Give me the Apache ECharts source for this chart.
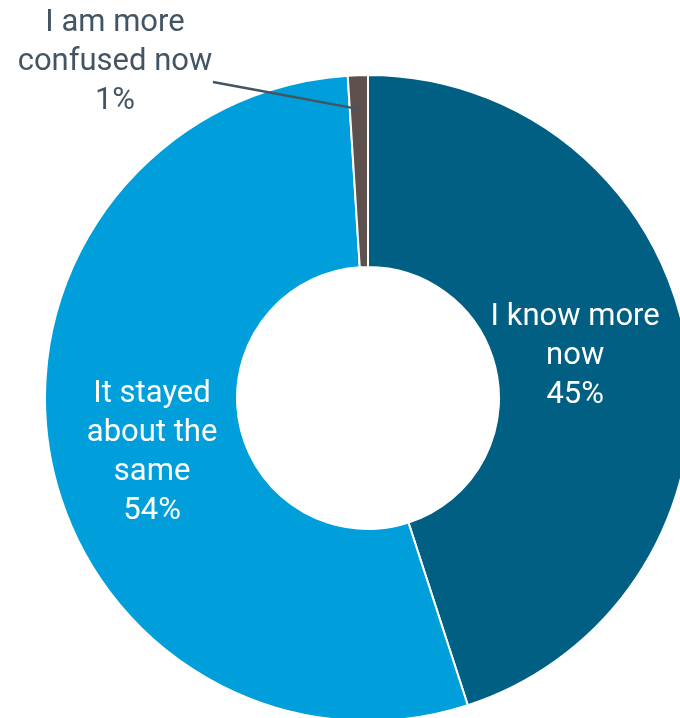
<!DOCTYPE html>
<html>
<head>
<meta charset="utf-8">
<script src="https://cdn.jsdelivr.net/npm/echarts@6/dist/echarts.min.js"></script>
<style>
  html, body { margin: 0; padding: 0; background: #fff; }
  #chart { width: 680px; height: 718px; }
</style>
</head>
<body>
<div id="chart"></div>
<script>
// Survey answers and their shares (%)
const categories = ['I know more\nnow', 'It stayed\nabout the\nsame', 'I am more\nconfused now'];
const shares = [45, 54, 1];
const colors = ['#005f83', '#009fdb', '#5e504d'];

const CENTER = [368, 398];
const RADIUS = [131, 323];
const FONT = 'Roboto';

const chart = echarts.init(document.getElementById('chart'));

// Slices with white inside labels (the tiny slice is labelled outside instead)
const ringData = categories.map((name, i) => ({
  name: name,
  value: shares[i],
  itemStyle: { color: colors[i] },
  label: { show: i !== 2 }
}));

// Same ring, invisible, drawn on top so the outside label and its leader
// line sit above the coloured slices
const calloutData = categories.map((name, i) => ({
  name: name,
  value: shares[i],
  label: { show: i === 2 },
  labelLine: { show: i === 2 }
}));

// Nudges for the inside labels
const insideShift = [[-20, -6], [10, 12]];

// Point inside a slice (mid angle, given radius), slices run clockwise from 12 o'clock
function slicePoint(index, r) {
  const total = shares.reduce((a, b) => a + b, 0);
  let before = 0;
  for (let i = 0; i < index; i++) before += shares[i];
  const frac = (before + shares[index] / 2) / total;
  const a = frac * Math.PI * 2;
  return [CENTER[0] + r * Math.sin(a), CENTER[1] - r * Math.cos(a)];
}

chart.setOption({
  animation: false,
  series: [{
    type: 'pie',
    z: 2,
    center: CENTER,
    radius: RADIUS,
    startAngle: 90,
    clockwise: true,
    avoidLabelOverlap: false,
    silent: true,
    itemStyle: { borderColor: '#ffffff', borderWidth: 2 },
    label: {
      position: 'inside',
      formatter: p => p.name + '\n' + p.value + '%',
      color: '#ffffff',
      fontFamily: FONT,
      fontSize: 31,
      lineHeight: 39,
      align: 'center'
    },
    labelLine: { show: false },
    labelLayout: function (params) {
      const s = insideShift[params.dataIndex];
      return s ? { dx: s[0], dy: s[1] } : {};
    },
    data: ringData
  }, {
    type: 'pie',
    z: 5,
    center: CENTER,
    radius: RADIUS,
    startAngle: 90,
    clockwise: true,
    avoidLabelOverlap: false,
    silent: true,
    itemStyle: { color: 'rgba(0,0,0,0)', borderWidth: 0 },
    label: {
      position: 'outside',
      formatter: p => p.name + '\n' + p.value + '%',
      color: '#435563',
      fontFamily: FONT,
      fontSize: 31,
      lineHeight: 39,
      align: 'center'
    },
    labelLine: {
      smooth: false,
      minTurnAngle: 0,
      maxSurfaceAngle: 180,
      lineStyle: { color: '#435563', width: 2.5 }
    },
    labelLayout: function (params) {
      if (params.dataIndex !== 2) return {};
      // leader line: from inside the slice straight to the label's lower right
      const start = slicePoint(2, 289);
      const end = [213, 82];
      return {
        x: 115, y: 62, align: 'center', verticalAlign: 'middle',
        labelLinePoints: [start, [(start[0] + end[0]) / 2, (start[1] + end[1]) / 2], end]
      };
    },
    data: calloutData
  }]
});
</script>
</body>
</html>
